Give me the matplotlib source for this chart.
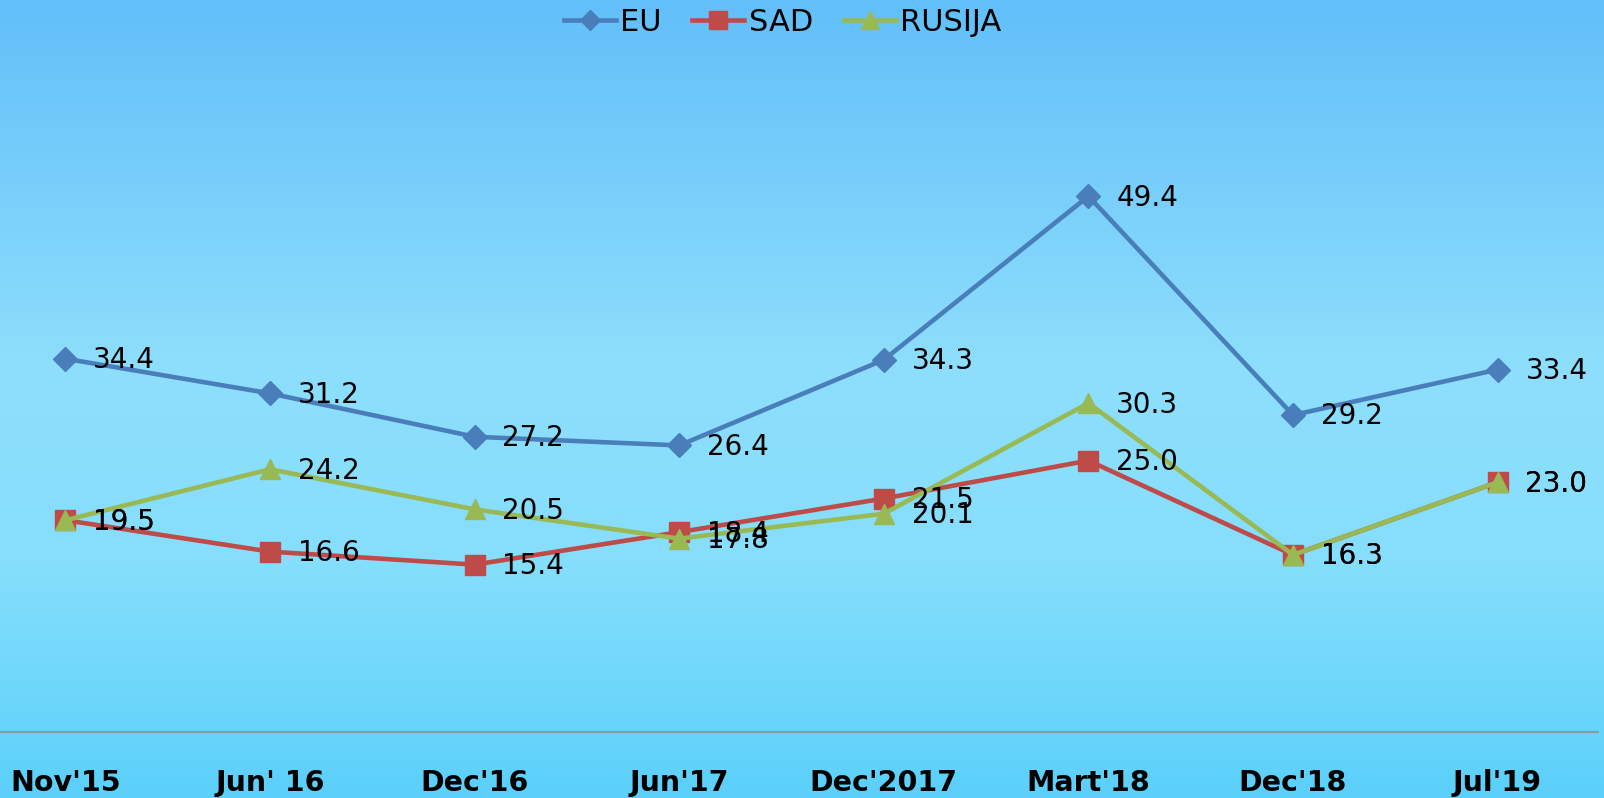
import numpy as np
import matplotlib.pyplot as plt
from matplotlib.colors import LinearSegmentedColormap

# --- data ---
categories = ["Nov'15", "Jun' 16", "Dec'16", "Jun'17", "Dec'2017", "Mart'18", "Dec'18", "Jul'19"]
eu = [34.4, 31.2, 27.2, 26.4, 34.3, 49.4, 29.2, 33.4]
sad = [19.5, 16.6, 15.4, 18.4, 21.5, 25.0, 16.3, 23.0]
rusija = [19.5, 24.2, 20.5, 17.8, 20.1, 30.3, 16.3, 23.0]

plt.rcParams['font.family'] = ['DejaVu Sans']

fig = plt.figure(figsize=(16.04, 7.98), dpi=100)

# background gradient (top -> bottom)
bg = fig.add_axes([0, 0, 1, 1], zorder=0)
grad = LinearSegmentedColormap.from_list(
    "bg", [(0.0, "#62bff9"), (0.45, "#8ddefc"), (0.7, "#86dffc"), (1.0, "#5bd0fa")])
bg.imshow(np.linspace(0, 1, 256).reshape(-1, 1), aspect="auto", cmap=grad,
          extent=[0, 1, 0, 1], origin="upper")
bg.axis("off")

ax = fig.add_axes([0, 0.0833, 1, 0.9167], zorder=1)
ax.set_facecolor("none")
x = np.arange(len(categories))

series = [
    ("EU", eu, "#4a7ebb", "D", 12),
    ("SAD", sad, "#be4b48", "s", 15),
    ("RUSIJA", rusija, "#98b954", "^", 15),
]
for name, vals, col, mk, ms in series:
    ax.plot(x, vals, color=col, lw=3.3, marker=mk, markersize=ms, label=name,
            solid_joinstyle="round")
    for i, v in enumerate(vals):
        ax.annotate(f"{v:.1f}", (i, v), xytext=(20, -1), textcoords="offset points",
                    ha="left", va="center", fontsize=20, color="black")

ax.set_xlim(-0.32, 7.52)
ax.set_ylim(0, 67.5)
ax.set_xticks(x)
ax.set_xticklabels(categories, fontsize=20.5, fontweight="bold")
ax.tick_params(axis="x", length=0, pad=27)
ax.set_yticks([])
for s in ["top", "left", "right"]:
    ax.spines[s].set_visible(False)
ax.spines["bottom"].set_color("#8c9aa3")
ax.spines["bottom"].set_linewidth(1.5)
ax.spines["bottom"].set_bounds(-0.32, 7.49)

leg = fig.legend(loc="upper center", bbox_to_anchor=(0.488, 1.025), ncol=3, frameon=False,
                 fontsize=22, handlelength=1.7, handletextpad=0.15, columnspacing=1.0,
                 markerscale=0.85)

fig.savefig("out.png", dpi=100)
